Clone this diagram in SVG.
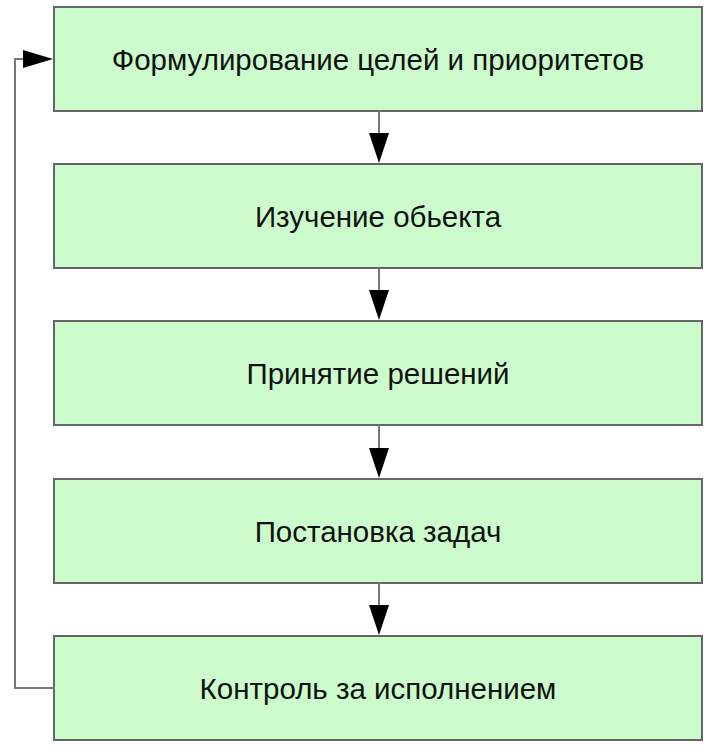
<svg xmlns="http://www.w3.org/2000/svg" width="712" height="752" viewBox="0 0 712 752">
<style>
.box{fill:#ccfccc;stroke:#666;stroke-width:2}
.lbl{font-family:"Liberation Sans",Arial,sans-serif;font-size:29.5px;fill:#111;text-anchor:middle;dominant-baseline:central}
.ln{fill:none;stroke:#777;stroke-width:2}
.ah{fill:#000}
</style>
<rect width="712" height="752" fill="#fff"/>
<g id="n1"><rect class="box" x="54" y="7" width="648" height="104"/><text class="lbl" x="378" y="59">Формулирование целей и приоритетов</text></g>
<g id="n2"><rect class="box" x="54" y="164" width="648" height="104"/><text class="lbl" x="378" y="216">Изучение обьекта</text></g>
<g id="n3"><rect class="box" x="54" y="321" width="648" height="104"/><text class="lbl" x="378" y="373">Принятие решений</text></g>
<g id="n4"><rect class="box" x="54" y="479" width="648" height="104"/><text class="lbl" x="378" y="531">Постановка задач</text></g>
<g id="n5"><rect class="box" x="54" y="636" width="648" height="104"/><text class="lbl" x="378" y="688">Контроль за исполнением</text></g>
<g id="connectors">
<line class="ln" x1="379" y1="111" x2="379" y2="134"/><polygon class="ah" points="369,133 389,133 379,163"/>
<line class="ln" x1="379" y1="268" x2="379" y2="291"/><polygon class="ah" points="369,290 389,290 379,320"/>
<line class="ln" x1="379" y1="425" x2="379" y2="449"/><polygon class="ah" points="369,448 389,448 379,478"/>
<line class="ln" x1="379" y1="583" x2="379" y2="606"/><polygon class="ah" points="369,605 389,605 379,635"/>
<polyline class="ln" points="54,688 15,688 15,59 24,59"/><polygon class="ah" points="23,50 23,68 53,59"/>
</g>
</svg>
